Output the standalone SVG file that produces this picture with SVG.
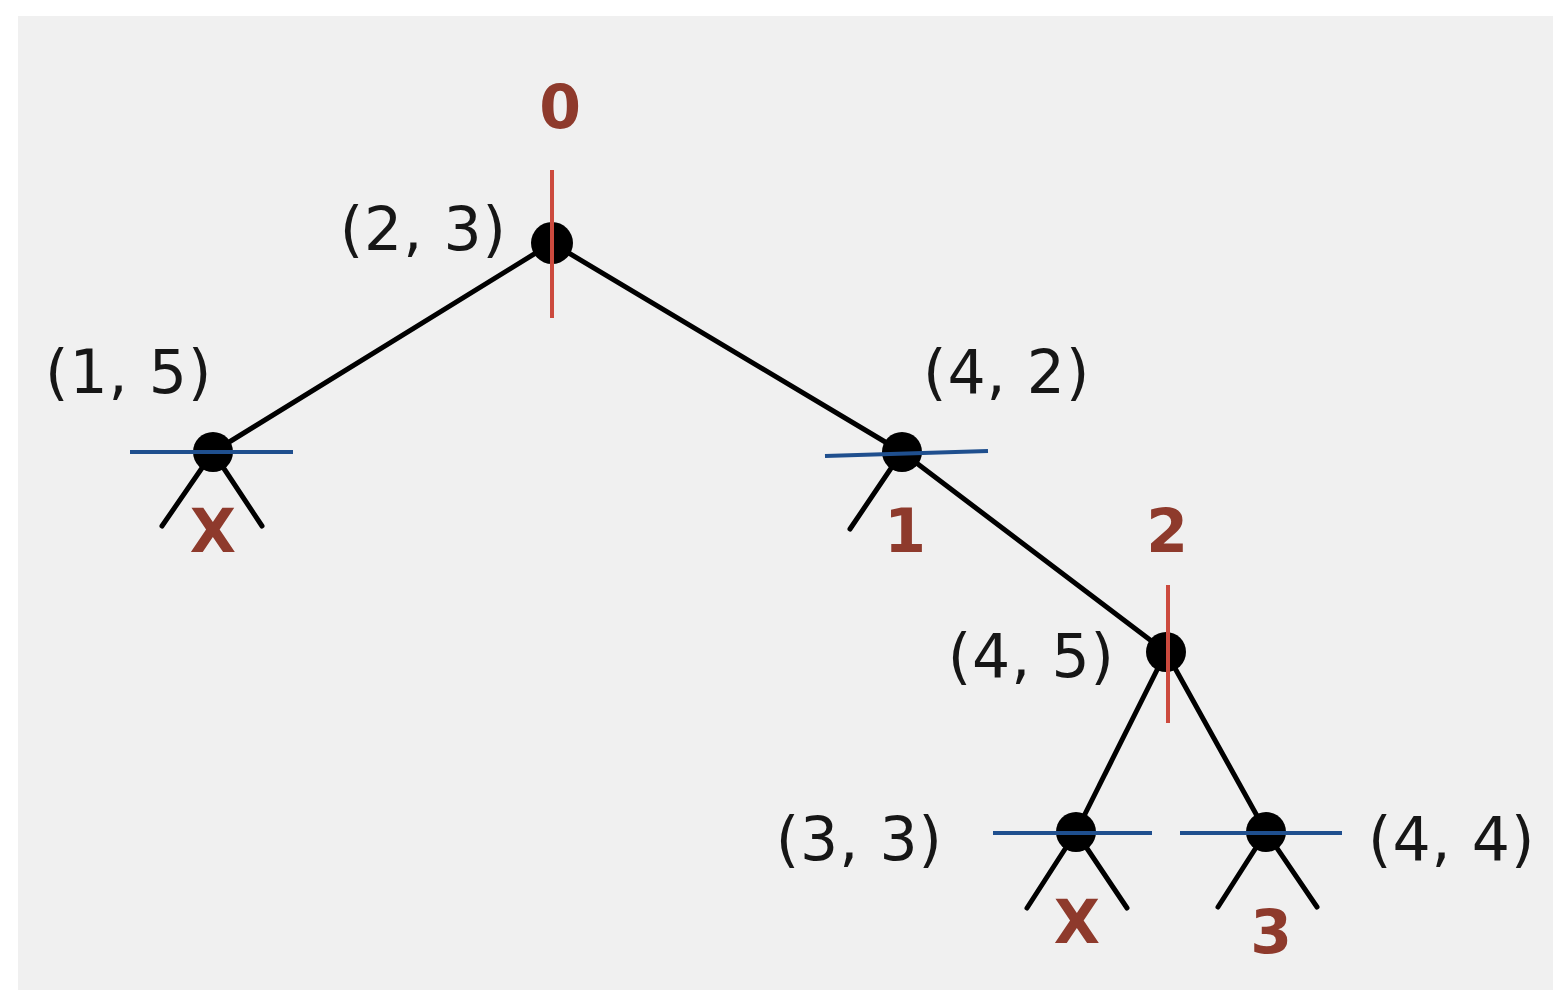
<svg xmlns="http://www.w3.org/2000/svg" width="1566" height="1004" viewBox="0 0 1566 1004">
<style>
.edge{stroke:#000;stroke-width:5;fill:none;stroke-linecap:round}
.dot{fill:#000}
.vsplit{stroke:#cc4a3e;stroke-width:4;fill:none}
.hsplit{stroke:#1f4f8e;stroke-width:4;fill:none}
.pt{font-family:"DejaVu Sans",sans-serif;font-size:60px;letter-spacing:1px;fill:#161616}
.lab{font-family:"DejaVu Sans",sans-serif;font-weight:bold;font-size:60px;fill:#8e3a2c;text-anchor:middle}
</style>
<rect width="1566" height="1004" fill="#ffffff"/>
<rect x="18" y="16" width="1535" height="974" fill="#f0f0f0"/>
<g id="connectors">
<line class="edge" x1="552" y1="243" x2="213" y2="452"/>
<line class="edge" x1="552" y1="243" x2="902" y2="452"/>
<line class="edge" x1="902" y1="452" x2="1166" y2="652"/>
<line class="edge" x1="1166" y1="652" x2="1076" y2="832"/>
<line class="edge" x1="1166" y1="652" x2="1266" y2="832"/>
<line class="edge" x1="213" y1="452" x2="162" y2="526"/>
<line class="edge" x1="213" y1="452" x2="262" y2="526"/>
<line class="edge" x1="902" y1="452" x2="850" y2="529"/>
<line class="edge" x1="1076" y1="832" x2="1027" y2="908"/>
<line class="edge" x1="1076" y1="832" x2="1127" y2="908"/>
<line class="edge" x1="1266" y1="832" x2="1218" y2="907"/>
<line class="edge" x1="1266" y1="832" x2="1317" y2="907"/>
</g>
<g id="node-2-3">
<circle class="dot" cx="552" cy="243" r="21"/>
<line class="vsplit" x1="552" y1="170" x2="552" y2="318"/>
<text class="pt" x="507" y="250" text-anchor="end">(2, 3)</text>
<text class="lab" x="560" y="128">0</text>
</g>
<g id="node-1-5">
<circle class="dot" cx="213" cy="452" r="20"/>
<line class="hsplit" x1="130" y1="452" x2="293" y2="452"/>
<text class="pt" x="45" y="393">(1, 5)</text>
<text class="lab" x="213" y="552">X</text>
</g>
<g id="node-4-2">
<circle class="dot" cx="902" cy="452" r="20"/>
<line class="hsplit" x1="825" y1="456" x2="988" y2="451"/>
<text class="pt" x="923" y="393">(4, 2)</text>
<text class="lab" x="905" y="552">1</text>
</g>
<g id="node-4-5">
<circle class="dot" cx="1166" cy="652" r="20"/>
<line class="vsplit" x1="1168" y1="585" x2="1168" y2="723"/>
<text class="pt" x="1115" y="677" text-anchor="end">(4, 5)</text>
<text class="lab" x="1167" y="552">2</text>
</g>
<g id="node-3-3">
<circle class="dot" cx="1076" cy="832" r="20"/>
<line class="hsplit" x1="993" y1="833" x2="1152" y2="833"/>
<text class="pt" x="943" y="860" text-anchor="end">(3, 3)</text>
<text class="lab" x="1077" y="943">X</text>
</g>
<g id="node-4-4">
<circle class="dot" cx="1266" cy="832" r="20"/>
<line class="hsplit" x1="1180" y1="833" x2="1342" y2="833"/>
<text class="pt" x="1368" y="860">(4, 4)</text>
<text class="lab" x="1271" y="953">3</text>
</g>
</svg>
